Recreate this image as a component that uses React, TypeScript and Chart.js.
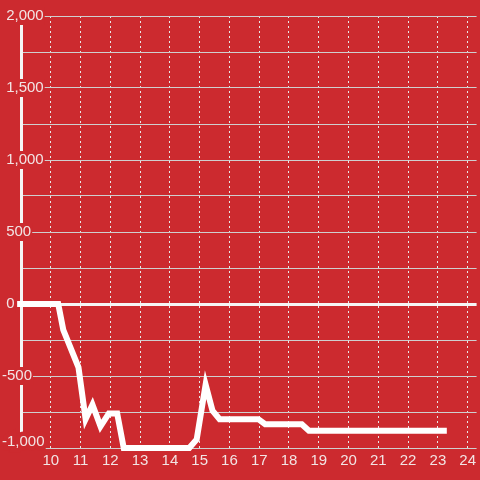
import React, { useEffect, useRef } from "react";
import { Chart, registerables } from "chart.js";

Chart.register(...registerables);

const xValues = [8.87, 10.25, 10.42, 10.93, 11.17, 11.4, 11.67, 11.95, 12.23, 12.45, 14.65, 14.9, 15.2, 15.43, 15.67, 16.97, 17.2, 18.43, 18.67, 23.3];
const yValues = [0, 0, -180, -440, -800, -700, -850, -760, -760, -1000, -1000, -940, -560, -740, -800, -800, -835, -835, -880, -880];
const xTickValues = [10, 11, 12, 13, 14, 15, 16, 17, 18, 19, 20, 21, 22, 23, 24];
const yMin = -1000;
const yMax = 2000;

const BG = "#cc2a2f";
const GRID = "#cfcfcf";
const TEXT = "#f2e4e4";
const FAMILY = "'Liberation Sans', Arial, sans-serif";
const FONT = { family: FAMILY, size: 15 };

export default function App() {
  const ref = useRef<HTMLCanvasElement | null>(null);
  useEffect(() => {
    document.body.style.margin = "0";
    const canvas = ref.current;
    if (!canvas) return;
    const isMin = (ctx: any) => ctx.tick && ctx.tick.value === yMin;
    const chart = new Chart(canvas, {
      type: "line",
      data: {
        datasets: [
          {
            data: xValues.map((x, i) => ({ x, y: yValues[i] })),
            borderColor: "#ffffff",
            borderWidth: 6,
            pointRadius: 0,
            tension: 0,
            clip: false as any,
          },
        ],
      },
      options: {
        animation: false,
        responsive: false,
        maintainAspectRatio: false,
        layout: { padding: { top: 16, left: 2, right: 0, bottom: 0 } },
        plugins: { legend: { display: false }, tooltip: { enabled: false } },
        scales: {
          x: {
            type: "linear",
            min: 9,
            max: 24.3,
            afterBuildTicks: (scale: any) => {
              scale.ticks = xTickValues.map((value) => ({ value }));
            },
            afterFit: (scale: any) => {
              scale.height = 32;
            },
            grid: { color: "#e8e8e8", lineWidth: 1, drawTicks: false },
            border: { display: false, dash: [2, 3] },
            ticks: {
              color: TEXT,
              font: FONT,
              padding: 4,
              maxRotation: 0,
              autoSkip: false,
              callback: (v: any) => String(v),
            },
          },
          y: {
            type: "linear",
            min: yMin,
            max: yMax,
            afterFit: (scale: any) => {
              scale.width = 19;
            },
            grid: {
              drawTicks: false,
              color: (ctx: any) => (ctx.tick && ctx.tick.value === 0 ? "#f5f5f5" : GRID),
              lineWidth: (ctx: any) => (ctx.tick && ctx.tick.value === 0 ? 3 : 1),
            },
            border: { display: true, color: "#f5f5f5", width: 3 },
            ticks: {
              stepSize: 250,
              color: TEXT,
              font: ((ctx: any) =>
                isMin(ctx)
                  ? { family: FAMILY, size: 15, lineHeight: 13 / 15 }
                  : { family: FAMILY, size: 15 }) as any,
              mirror: true,
              padding: -19,
              autoSkip: false,
              showLabelBackdrop: ((ctx: any) =>
                ctx.tick && ctx.tick.value % 500 === 0 && ctx.tick.value !== yMin) as any,
              backdropColor: BG,
              backdropPadding: { top: 0, bottom: 0, left: 0, right: 1 },
              textStrokeColor: ((ctx: any) => (isMin(ctx) ? BG : "")) as any,
              textStrokeWidth: ((ctx: any) => (isMin(ctx) ? 9 : 0)) as any,
              callback: (v: any) => {
                const n = Number(v);
                if (n % 500 !== 0) return "";
                const text = (n < 0 ? "-" : " ") + Math.abs(n).toLocaleString("en-US");
                return n === yMin ? [text, ""] : text;
              },
            },
          },
        },
      },
    });
    return () => chart.destroy();
  }, []);
  return (
    <div style={{ width: 480, height: 480, background: BG, position: "relative" }}>
      <canvas ref={ref} width={480} height={480} style={{ display: "block" }} />
    </div>
  );
}
